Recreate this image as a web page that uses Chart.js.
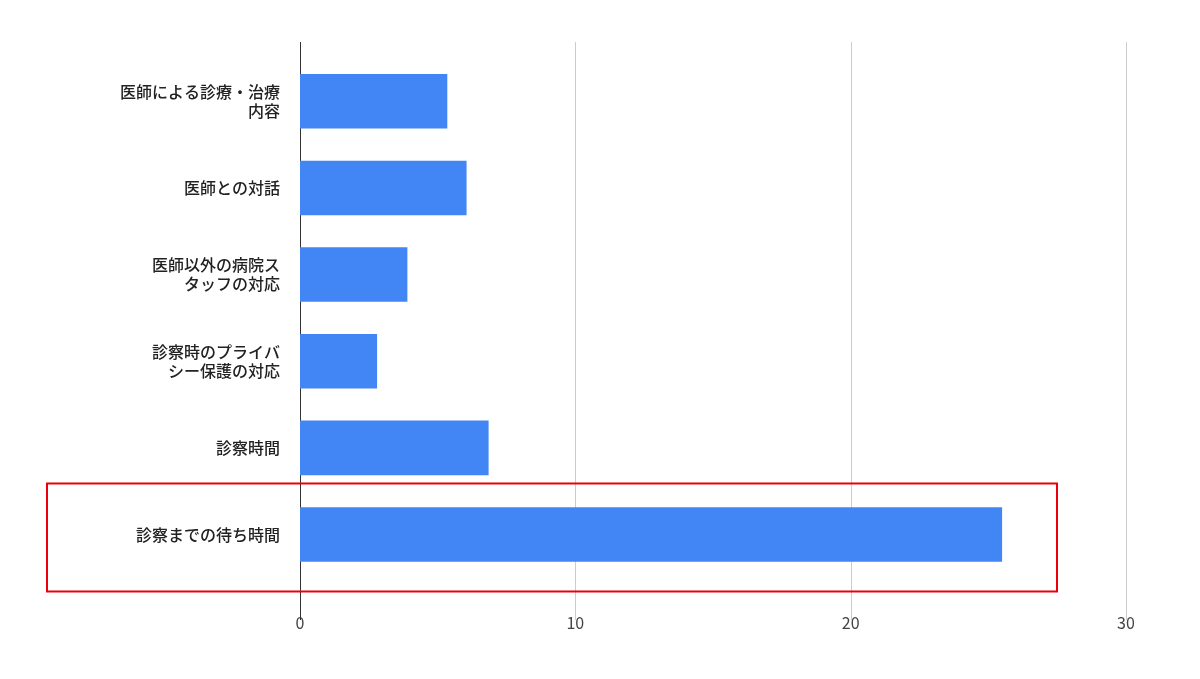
<!DOCTYPE html>
<html><head><meta charset="utf-8">
<script src="https://cdn.jsdelivr.net/npm/chart.js@4"></script>
<style>html,body{margin:0;padding:0;background:#fff}#w{width:1200px;height:679px}</style>
</head><body><div id="w"><canvas id="c"></canvas></div>
<script>
const categories = [["医師による診療・治療","内容"],"医師との対話",["医師以外の病院ス","タッフの対応"],["診察時のプライバ","シー保護の対応"],"診察時間","診察までの待ち時間"];
const values = [5.35, 6.05, 3.9, 2.8, 6.85, 25.5];
const xTicks = [0, 10, 20, 30];
const highlightIndex = 5;

const gridPlugin = {
  id: 'grid2',
  beforeDatasetsDraw(chart) {
    const x = chart.scales.x, ctx = chart.ctx;
    ctx.save();
    xTicks.forEach(v => {
      const px = Math.round(x.getPixelForValue(v)) + 0.5;
      ctx.strokeStyle = v === 0 ? '#333' : '#cccccc';
      ctx.lineWidth = 1;
      ctx.beginPath(); ctx.moveTo(px, 42); ctx.lineTo(px, 620); ctx.stroke();
    });
    ctx.restore();
  },
  afterDraw(chart) {
    const y = chart.scales.y, ctx = chart.ctx;
    const c = y.getPixelForValue(highlightIndex);
    ctx.save();
    ctx.strokeStyle = '#e8000b';
    ctx.lineWidth = 2;
    ctx.strokeRect(47, c - 51, 1010, 108);
    ctx.restore();
  }
};

new Chart(document.getElementById('c'), {
  type: 'bar',
  data: { labels: categories, datasets: [{ data: values, backgroundColor: '#4285f4', categoryPercentage: 0.63, barPercentage: 1 }] },
  options: {
    indexAxis: 'y', responsive: true, maintainAspectRatio: false, animation: false,
    layout: { padding: { left: 0, right: 74, top: 58, bottom: 18 } },
    plugins: { legend: { display: false }, tooltip: { enabled: false } },
    scales: {
      x: { min: 0, max: 30, afterBuildTicks(s){ s.ticks = xTicks.map(v=>({value:v})); },
        grid: { display: false }, border: { display: false },
        ticks: { color: '#444', font: { family: 'Noto Sans CJK JP', size: 16 }, padding: 28 } },
      y: { grid: { display: false }, border: { display: false },
        afterFit(s){ s.width = 300; },
        ticks: { color: '#222', font: { family: 'Noto Sans CJK JP', size: 16, weight: '500' }, padding: 12 } }
    }
  },
  plugins: [gridPlugin]
});
</script></body></html>
